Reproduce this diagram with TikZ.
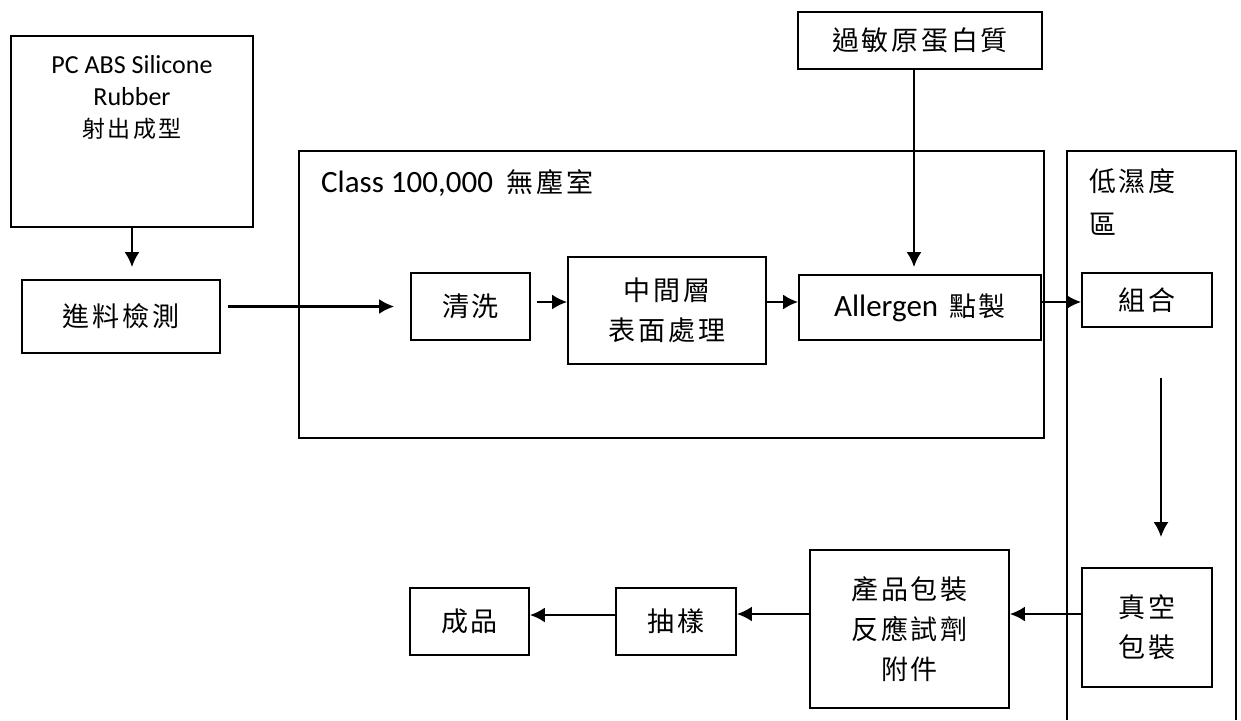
\documentclass[tikz,border=0pt]{standalone}
\usepackage{fontspec}
\setmainfont{Carlito}
\newfontfamily\cjk[LetterSpace=10]{Noto Sans CJK TC}
\usetikzlibrary{arrows.meta,positioning}

\begin{document}
\begin{tikzpicture}[x=1pt,y=-1pt,
		box/.style={draw, line width=1.8pt, inner sep=0pt, align=center,
			font=\fontsize{27}{40}\selectfont\cjk},
		frame/.style={line width=1.8pt},
		arr/.style={line width=2.2pt, -{Latex[length=15pt,width=15pt]}}]
		\useasboundingbox (0,0) rectangle (1241,720);
		
		% rooms
		\draw[frame] (299,151) rectangle (1044,438);
		\node[anchor=base west, inner sep=0pt, font=\fontsize{31}{40}\selectfont] (cleanlabel) at (321,192) {Class 100,000\hspace{14pt}{\fontsize{27}{40}\selectfont\cjk 無塵室}};
		
		\draw[frame] (1067,720) -- (1067,151) -- (1236,151) -- (1236,720);
		\node[anchor=north west, inner sep=0pt, align=left, font=\fontsize{27}{43}\selectfont\cjk] (drylabel) at (1089,168) {低濕度\\區};
		
		% process steps
		\node[box, minimum width=242, minimum height=191] (pc) at (132,131.5) {};
		\node[anchor=north, inner sep=0pt, align=center, font=\fontsize{26}{32}\selectfont] (pctext) at (132,55) {PC ABS Silicone\\Rubber\\{\fontsize{23}{32}\selectfont\cjk 射出成型}};
		\node[box, minimum width=198, minimum height=73] (inspect) at (121,316.5) {進料檢測};
		\node[box, minimum width=119, minimum height=67] (wash) at (470.5,306.5) {清洗};
		\node[box, minimum width=198, minimum height=107] (mid) at (667,310.5) {中間層\\表面處理};
		\node[box, minimum width=244, minimum height=57] (protein) at (920,40.5) {過敏原蛋白質};
		\node[box, minimum width=242, minimum height=65] (allergen) at (920,307.5) {{\fontsize{31}{40}\selectfont\rmfamily Allergen}\hspace{11pt}點製};
		\node[box, minimum width=130, minimum height=54] (assemble) at (1147,300) {組合};
		\node[box, minimum width=130, minimum height=119] (vacuum) at (1147,627.5) {真空\\包裝};
		\node[box, minimum width=199, minimum height=158] (pack) at (909.5,629) {產品包裝\\反應試劑\\附件};
		\node[box, minimum width=120, minimum height=67] (sample) at (676,621.5) {抽樣};
		\node[box, minimum width=119, minimum height=67] (product) at (469.5,621.5) {成品};
		
		% flow
		\draw[arr, shorten >=12pt] (pc.south) -- (pc.south |- inspect.north);
		\draw[arr, shorten <=7pt, shorten >=16pt] (inspect.east |- wash.west) -- (wash.west);
		\draw[arr, shorten <=6pt] ([yshift=4.5pt]wash.east) -- ([yshift=4.5pt]wash.east -| mid.west);
		\draw[arr] ([yshift=8.5pt]mid.east) -- ([yshift=8.5pt]mid.east -| allergen.west);
		\draw[arr, shorten >=7pt] ([xshift=-6pt]protein.south) -- ([xshift=-6pt]protein.south |- allergen.north);
		\draw[arr] ([yshift=5.5pt]allergen.east) -- ([yshift=5.5pt]allergen.east -| assemble.west);
		\draw[arr, shorten <=50pt, shorten >=30pt] ([xshift=14pt]assemble.south) -- ([xshift=14pt]assemble.south |- vacuum.north);
		\draw[arr] ([yshift=13.5pt]vacuum.west) -- ([yshift=13.5pt]vacuum.west -| pack.east);
		\draw[arr] ([yshift=15pt]pack.west) -- ([yshift=15pt]pack.west -| sample.east);
		\draw[arr] ([yshift=6.5pt]sample.west) -- ([yshift=6.5pt]sample.west -| product.east);
	\end{tikzpicture}
\end{document}
